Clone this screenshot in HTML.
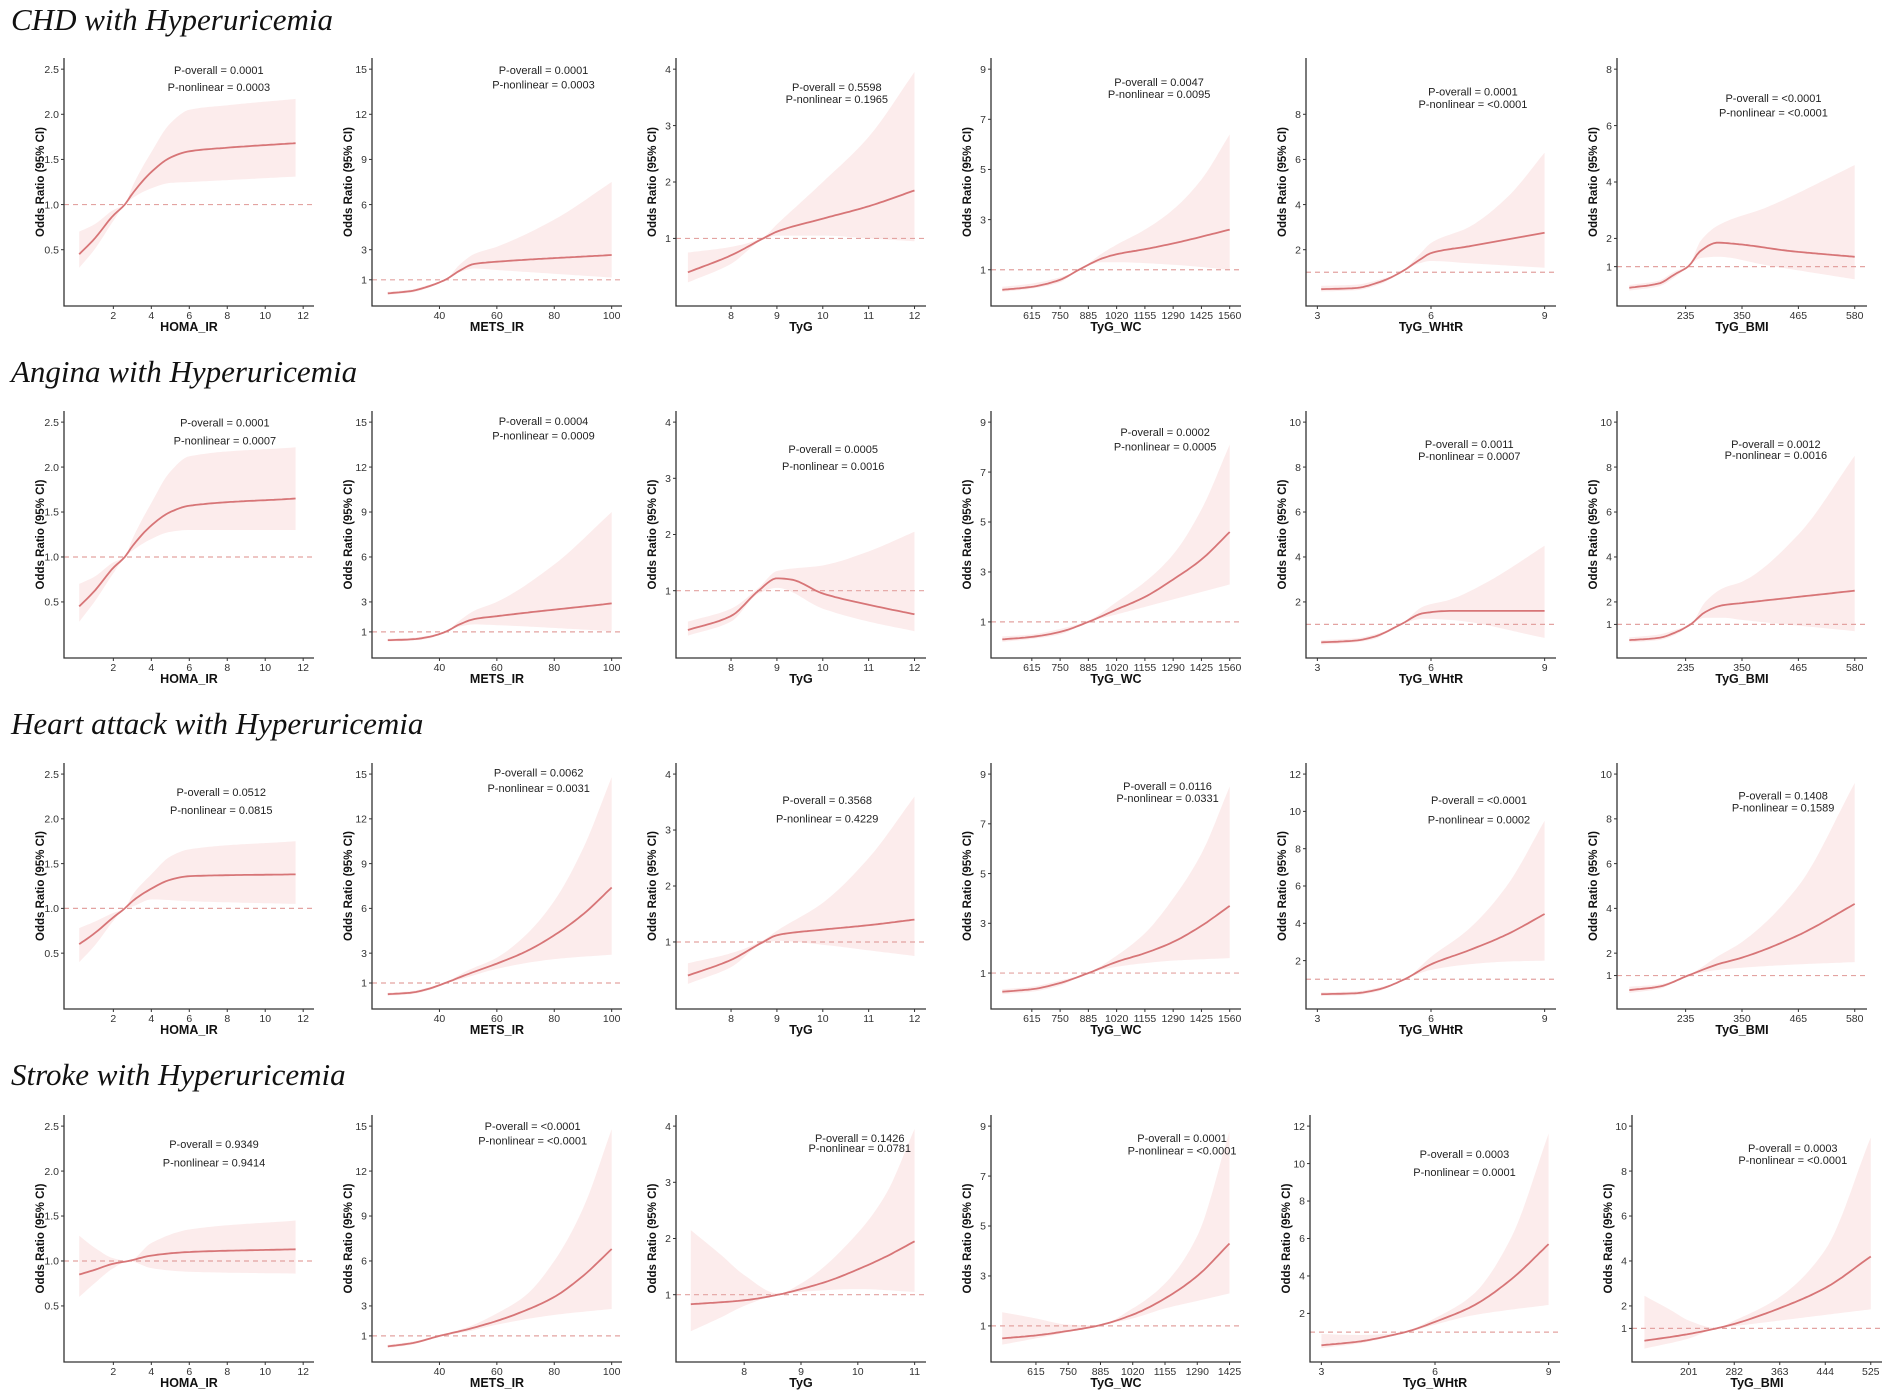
<!DOCTYPE html>
<html><head><meta charset="utf-8">
<style>
html,body{margin:0;padding:0;background:#fff;}
svg{display:block;}
text{font-family:"Liberation Sans",Arial,sans-serif;}
.ttl{font-family:"Liberation Serif","Times New Roman",serif;font-style:italic;font-size:31px;fill:#111;}
.tk{font-size:10.5px;fill:#333;}
.pt{font-size:11px;fill:#222;}
.xl{font-size:12.5px;font-weight:bold;fill:#111;}
.yl{font-size:11.5px;font-weight:bold;fill:#111;}
</style></head>
<body>
<svg id="s" width="1893" height="1398" xmlns="http://www.w3.org/2000/svg"></svg>
<script>
const S=document.getElementById('s');
let out='';
const titles=[["CHD with Hyperuricemia",20],["Angina with Hyperuricemia",372],["Heart attack with Hyperuricemia",724],["Stroke with Hyperuricemia",1075]];
titles.forEach(t=>{out+=`<text class="ttl" x="11" y="${t[1]+10}">${t[0]}</text>`;});
const tops=[58,411,763,1115], bots=[306,658,1009,1362];
const colX=[[64,372,676,991,1306,1617],[64,372,676,991,1306,1617],[64,372,676,991,1306,1617],[64,372,676,991,1310,1632]];
const W=250;
const xl=["HOMA_IR","METS_IR","TyG","TyG_WC","TyG_WHtR","TyG_BMI"];
function xinfo(r,c){
 switch(c){
  case 0:return {r:[-0.6,12.57],t:[2,4,6,8,10,12]};
  case 1:return {r:[16.5,103.6],t:[40,60,80,100]};
  case 2:return r<3?{r:[6.8,12.25],t:[8,9,10,11,12]}:{r:[6.8,11.2],t:[8,9,10,11]};
  case 3:return r<3?{r:[420,1614],t:[615,750,885,1020,1155,1290,1425,1560]}:{r:[427,1473],t:[615,750,885,1020,1155,1290,1425]};
  case 4:return {r:[2.7,9.3],t:[3,6,9]};
  case 5:return r<3?{r:[95,605],t:[235,350,465,580]}:{r:[100,545],t:[201,282,363,444,525]};
 }}
function yinfo(r,c){
 if(c==0)return {H:2.5,t:[0.5,1,1.5,2,2.5],f:1};
 if(c==1)return {H:15,t:[1,3,6,9,12,15]};
 if(c==2)return {H:4,t:[1,2,3,4]};
 if(c==3)return {H:9,t:[1,3,5,7,9]};
 if(c==4){if(r==0)return {H:10,t:[2,4,6,8]};if(r==1)return {H:10,t:[2,4,6,8,10]};return {H:12,t:[2,4,6,8,10,12]};}
 if(c==5){if(r==0)return {H:8,t:[1,2,4,6,8]};return {H:10,t:[1,2,4,6,8,10]};}
}
const D=[
[
 [[[0.2,0.45],[1,0.62],[2,0.88],[2.6,1.0],[3,1.12],[4,1.36],[5,1.52],[6,1.59],[8,1.63],[11.6,1.68]],
  [[0.2,0.3],[1,0.5],[2,0.82],[2.6,1.0],[3,1.07],[4,1.18],[5,1.24],[6,1.25],[11.6,1.31]],
  [[0.2,0.7],[1,0.78],[2,0.94],[2.6,1.0],[3,1.2],[4,1.58],[5,1.9],[6,2.05],[8,2.1],[11.6,2.17]]],
 [[[22,0.1],[30,0.25],[36,0.55],[42,1.0],[47,1.6],[52,2.05],[60,2.2],[100,2.65]],
  [[22,0.0],[30,0.15],[36,0.45],[42,1.0],[47,1.5],[52,1.75],[60,1.65],[100,1.15]],
  [[22,0.2],[30,0.35],[36,0.65],[42,1.0],[47,2.0],[52,2.7],[60,3.2],[80,5.0],[100,7.5]]],
 [[[7.06,0.4],[8,0.7],[8.7,1.0],[9,1.12],[10,1.35],[11,1.57],[12,1.85]],
  [[7.06,0.22],[8,0.55],[8.7,0.98],[9,1.05],[10,1.05],[11,1.0],[12,0.95]],
  [[7.06,0.75],[8,0.85],[8.7,1.02],[9,1.25],[10,2.0],[11,2.8],[12,3.95]]],
 [[[474,0.2],[615,0.32],[750,0.6],[840,1.0],[950,1.45],[1020,1.62],[1155,1.82],[1290,2.05],[1560,2.6]],
  [[474,0.12],[615,0.25],[750,0.5],[840,1.0],[950,1.3],[1020,1.3],[1290,1.2],[1560,1.0]],
  [[474,0.32],[615,0.45],[750,0.7],[840,1.0],[950,1.65],[1020,2.0],[1155,2.6],[1290,3.4],[1425,4.6],[1560,6.4]]],
 [[[3.1,0.25],[4,0.3],[4.7,0.6],[5.2,1.0],[5.7,1.55],[6,1.85],[7,2.15],[8,2.45],[9,2.75]],
  [[3.1,0.15],[4,0.2],[4.7,0.5],[5.2,1.0],[5.7,1.4],[6,1.5],[7,1.4],[9,1.2]],
  [[3.1,0.4],[4,0.45],[4.7,0.7],[5.2,1.0],[5.7,1.8],[6,2.3],[7,3.0],[8,4.3],[9,6.3]]],
 [[[120,0.25],[180,0.4],[215,0.75],[240,1.0],[265,1.55],[300,1.85],[340,1.8],[450,1.55],[580,1.35]],
  [[120,0.15],[180,0.3],[215,0.65],[240,1.0],[265,1.3],[300,1.35],[400,1.05],[580,0.55]],
  [[120,0.35],[180,0.5],[215,0.85],[240,1.0],[265,1.9],[300,2.45],[400,3.1],[580,4.6]]]
],
[
 [[[0.2,0.45],[1,0.62],[2,0.88],[2.6,1.0],[3,1.12],[4,1.35],[5,1.5],[6,1.57],[11.6,1.65]],
  [[0.2,0.28],[1,0.5],[2,0.82],[2.6,1.0],[3,1.07],[4,1.2],[5,1.28],[6,1.3],[11.6,1.3]],
  [[0.2,0.7],[1,0.78],[2,0.94],[2.6,1.0],[3,1.2],[4,1.6],[5,1.95],[6,2.12],[11.6,2.22]]],
 [[[22,0.45],[30,0.5],[36,0.65],[42,1.0],[47,1.5],[52,1.85],[60,2.05],[100,2.9]],
  [[22,0.35],[30,0.42],[36,0.55],[42,1.0],[47,1.35],[52,1.5],[60,1.45],[100,1.05]],
  [[22,0.55],[30,0.6],[36,0.75],[42,1.0],[47,1.75],[52,2.4],[60,3.0],[80,5.5],[100,9.0]]],
 [[[7.06,0.3],[8,0.55],[8.6,1.0],[9,1.22],[9.3,1.2],[10,0.95],[11,0.75],[12,0.58]],
  [[7.06,0.2],[8,0.45],[8.6,0.95],[9,1.05],[10,0.68],[11,0.45],[12,0.28]],
  [[7.06,0.45],[8,0.68],[8.6,1.05],[9,1.35],[10,1.45],[11,1.7],[12,2.05]]],
 [[[474,0.3],[615,0.4],[750,0.6],[885,1.0],[1020,1.5],[1155,2.0],[1290,2.7],[1425,3.5],[1560,4.6]],
  [[474,0.2],[615,0.32],[750,0.5],[885,1.0],[1020,1.3],[1155,1.6],[1290,1.9],[1560,2.5]],
  [[474,0.42],[615,0.5],[750,0.72],[885,1.05],[1020,1.8],[1155,2.6],[1290,3.7],[1425,5.5],[1560,8.1]]],
 [[[3.1,0.2],[4,0.28],[4.5,0.45],[5.2,1.0],[5.8,1.5],[6.5,1.6],[9,1.6]],
  [[3.1,0.1],[4,0.2],[4.5,0.35],[5.2,1.0],[5.8,1.25],[6.5,1.2],[9,0.4]],
  [[3.1,0.3],[4,0.38],[4.5,0.55],[5.2,1.0],[5.8,1.8],[6.5,2.1],[7.5,2.9],[9,4.5]]],
 [[[120,0.3],[180,0.4],[220,0.7],[245,1.0],[275,1.55],[310,1.85],[350,1.95],[580,2.5]],
  [[120,0.2],[180,0.3],[220,0.6],[245,1.0],[275,1.3],[310,1.3],[350,1.2],[580,0.7]],
  [[120,0.42],[180,0.55],[220,0.8],[245,1.0],[275,2.0],[310,2.6],[350,2.9],[465,5.0],[580,8.5]]]
],
[
 [[[0.2,0.6],[1,0.72],[2,0.9],[2.6,1.0],[3,1.08],[4,1.22],[5,1.32],[6,1.36],[11.6,1.38]],
  [[0.2,0.4],[1,0.58],[2,0.86],[2.6,1.0],[3,1.02],[4,1.1],[6,1.08],[11.6,1.05]],
  [[0.2,0.78],[1,0.85],[2,0.95],[2.6,1.0],[3,1.15],[4,1.38],[5,1.58],[6,1.66],[11.6,1.75]]],
 [[[22,0.25],[30,0.35],[36,0.6],[42,1.0],[50,1.6],[60,2.3],[70,3.1],[80,4.2],[90,5.6],[100,7.4]],
  [[22,0.15],[30,0.25],[36,0.5],[42,0.95],[50,1.4],[60,1.95],[80,2.6],[100,2.9]],
  [[22,0.35],[30,0.45],[36,0.7],[42,1.05],[50,1.85],[60,2.7],[70,4.2],[80,6.5],[90,10],[100,14.8]]],
 [[[7.06,0.4],[8,0.68],[8.7,1.0],[9,1.12],[10,1.22],[11,1.3],[12,1.4]],
  [[7.06,0.25],[8,0.55],[8.7,0.97],[9,1.02],[10,0.95],[11,0.85],[12,0.75]],
  [[7.06,0.62],[8,0.8],[8.7,1.03],[9,1.2],[10,1.7],[11,2.5],[12,3.6]]],
 [[[474,0.25],[615,0.35],[750,0.6],[885,1.0],[1020,1.45],[1155,1.8],[1290,2.25],[1425,2.9],[1560,3.7]],
  [[474,0.15],[615,0.25],[750,0.5],[885,1.0],[1020,1.25],[1155,1.4],[1290,1.5],[1560,1.6]],
  [[474,0.35],[615,0.45],[750,0.7],[885,1.02],[1020,1.7],[1155,2.6],[1290,4.0],[1425,5.8],[1560,8.5]]],
 [[[3.1,0.2],[4,0.25],[4.6,0.45],[5.3,1.0],[6,1.8],[7,2.55],[8,3.4],[9,4.5]],
  [[3.1,0.1],[4,0.15],[4.6,0.35],[5.3,1.0],[6,1.5],[7,1.8],[8,1.95],[9,2.0]],
  [[3.1,0.3],[4,0.35],[4.6,0.55],[5.3,1.0],[6,2.2],[7,3.7],[8,6.0],[9,9.5]]],
 [[[120,0.35],[180,0.5],[240,1.0],[300,1.5],[350,1.8],[465,2.8],[580,4.2]],
  [[120,0.22],[180,0.4],[240,0.98],[300,1.25],[350,1.35],[465,1.5],[580,1.6]],
  [[120,0.5],[180,0.6],[240,1.02],[300,1.85],[350,2.5],[465,5.0],[580,9.6]]]
],
[
 [[[0.2,0.85],[1,0.9],[2,0.97],[2.8,1.0],[4,1.06],[6,1.1],[11.6,1.13]],
  [[0.2,0.6],[1,0.75],[2,0.92],[2.8,1.0],[4,0.92],[6,0.88],[11.6,0.86]],
  [[0.2,1.28],[1,1.15],[2,1.03],[2.8,1.0],[4,1.2],[6,1.35],[11.6,1.45]]],
 [[[22,0.3],[30,0.5],[40,1.0],[50,1.45],[60,2.0],[70,2.7],[80,3.6],[90,5.0],[100,6.8]],
  [[22,0.2],[30,0.4],[40,0.95],[50,1.3],[60,1.75],[80,2.4],[100,2.8]],
  [[22,0.4],[30,0.6],[40,1.05],[50,1.6],[60,2.5],[70,3.7],[80,6.0],[90,9.5],[100,14.8]]],
 [[[7.06,0.83],[8,0.9],[8.6,1.0],[9,1.1],[9.5,1.25],[10,1.45],[10.5,1.68],[11,1.95]],
  [[7.06,0.35],[7.6,0.6],[8,0.8],[8.6,1.0],[9,1.05],[10,1.1],[11,1.05]],
  [[7.06,2.15],[7.6,1.7],[8,1.35],[8.6,1.02],[9,1.2],[10,2.1],[10.5,2.8],[11,3.95]]],
 [[[474,0.5],[615,0.62],[750,0.8],[870,1.0],[1020,1.45],[1155,2.1],[1290,3.0],[1425,4.3]],
  [[474,0.25],[615,0.5],[750,0.75],[870,1.0],[1020,1.3],[1155,1.7],[1290,2.0],[1425,2.3]],
  [[474,1.55],[615,1.3],[750,1.05],[870,1.02],[1020,1.7],[1155,2.7],[1290,4.6],[1425,8.8]]],
 [[[3.0,0.3],[4,0.5],[5,0.9],[5.3,1.05],[6,1.55],[7,2.4],[8,3.8],[9,5.7]],
  [[3.0,0.15],[4,0.4],[5,0.85],[5.3,1.0],[6,1.4],[7,1.9],[8,2.2],[9,2.45]],
  [[3.0,0.9],[4,0.85],[5,0.95],[5.3,1.1],[6,1.75],[7,3.0],[8,6.0],[9,11.6]]],
 [[[122,0.45],[201,0.75],[250,1.0],[282,1.2],[363,1.9],[444,2.8],[525,4.2]],
  [[122,0.1],[201,0.55],[250,1.0],[282,1.1],[363,1.35],[444,1.6],[525,1.85]],
  [[122,2.45],[170,1.8],[201,1.35],[250,1.02],[282,1.35],[363,2.4],[444,4.5],[525,9.5]]]
]];
const P=[
[[178,58,72,"0.0001","0.0003"],[447,58,70,"0.0001","0.0003"],[690,72,82,"0.5598","0.1965"],[957,68,78,"0.0047","0.0095"],[1217,76,86,"0.0001","<0.0001"],[1466,81,93,"<0.0001","<0.0001"]],
[[183,350,365,"0.0001","0.0007"],[447,349,361,"0.0004","0.0009"],[687,372,386,"0.0005","0.0016"],[962,358,370,"0.0002","0.0005"],[1214,368,378,"0.0011","0.0007"],[1468,368,377,"0.0012","0.0016"]],
[[180,656,671,"0.0512","0.0815"],[443,640,653,"0.0062","0.0031"],[682,663,678,"0.3568","0.4229"],[964,651,661,"0.0116","0.0331"],[1222,663,679,"<0.0001","0.0002"],[1474,659,669,"0.1408","0.1589"]],
[[174,948,963,"0.9349","0.9414"],[438,933,945,"<0.0001","<0.0001"],[709,943,951,"0.1426","0.0781"],[976,943,953,"0.0001","<0.0001"],[1210,956,971,"0.0003","0.0001"],[1482,951,961,"0.0003","<0.0001"]]];
function pchip(k){
 const n=k.length,xs=k.map(a=>a[0]),ys=k.map(a=>a[1]);
 const h=[],d=[];for(let i=0;i<n-1;i++){h[i]=xs[i+1]-xs[i];d[i]=(ys[i+1]-ys[i])/h[i];}
 const m=[];m[0]=d[0];m[n-1]=d[n-2];
 for(let i=1;i<n-1;i++){if(d[i-1]*d[i]<=0)m[i]=0;else{const w1=2*h[i]+h[i-1],w2=h[i]+2*h[i-1];m[i]=(w1+w2)/(w1/d[i-1]+w2/d[i]);}}
 return x=>{let i=0;while(i<n-2&&x>xs[i+1])i++;const t=(x-xs[i])/h[i],t2=t*t,t3=t2*t;
  return (2*t3-3*t2+1)*ys[i]+(t3-2*t2+t)*h[i]*m[i]+(-2*t3+3*t2)*ys[i+1]+(t3-t2)*h[i]*m[i+1];};
}
for(let r=0;r<4;r++)for(let c=0;c<6;c++){
 const x0=colX[r][c],x1=x0+W,yt=tops[r],yb=bots[r],Hh=yb-yt;
 const xi=xinfo(r,c),yi=yinfo(r,c);
 const X=v=>x0+(v-xi.r[0])/(xi.r[1]-xi.r[0])*W;
 const Y=v=>yb-(0.045+0.91*v/yi.H)*Hh;
 const [e,lo,hi]=D[r][c];
 const fe=pchip(e),fl=pchip(lo),fh=pchip(hi);
 const a=e[0][0],b=e[e.length-1][0];let up=[],dn=[],ln=[];
 for(let i=0;i<=80;i++){const v=a+(b-a)*i/80;up.push(X(v).toFixed(1)+','+Y(fh(v)).toFixed(1));dn.push(X(v).toFixed(1)+','+Y(fl(v)).toFixed(1));ln.push(X(v).toFixed(1)+','+Y(fe(v)).toFixed(1));}
 out+=`<polygon points="${up.join(' ')} ${dn.reverse().join(' ')}" fill="#fcecec"/>`;
 out+=`<line x1="${x0}" x2="${x1}" y1="${Y(1)}" y2="${Y(1)}" stroke="#e3a3a1" stroke-width="1.2" stroke-dasharray="5,4"/>`;
 out+=`<polyline points="${ln.join(' ')}" fill="none" stroke="#d77577" stroke-width="1.8"/>`;
 out+=`<path d="M${x0},${yt}V${yb}H${x1}" fill="none" stroke="#333" stroke-width="1.3"/>`;
 yi.t.forEach(t=>{const y=Y(t);out+=`<line x1="${x0-3}" x2="${x0}" y1="${y}" y2="${y}" stroke="#333"/><text class="tk" x="${x0-5}" y="${y+3.7}" text-anchor="end">${yi.f?t.toFixed(1):t}</text>`;});
 xi.t.forEach(t=>{const x=X(t);out+=`<line x1="${x}" x2="${x}" y1="${yb}" y2="${yb+3}" stroke="#333"/><text class="tk" x="${x}" y="${yb+13}" text-anchor="middle">${t}</text>`;});
 out+=`<text class="xl" x="${(x0+x1)/2}" y="${yb+25}" text-anchor="middle">${xl[c]}</text>`;
 const ym=(yt+yb)/2;out+=`<text class="yl" transform="translate(${x0-20},${ym}) rotate(-90)" text-anchor="middle">Odds Ratio (95% CI)</text>`;
 const p=P[r][c];const px=p[0]*1.207+4;
 out+=`<text class="pt" x="${px}" y="${p[1]*1.207+4}" text-anchor="middle">P-overall = ${p[3].replace('<','&lt;')}</text>`;
 out+=`<text class="pt" x="${px}" y="${p[2]*1.207+4}" text-anchor="middle">P-nonlinear = ${p[4].replace('<','&lt;')}</text>`;
}
S.innerHTML=out;
</script>
</body></html>
